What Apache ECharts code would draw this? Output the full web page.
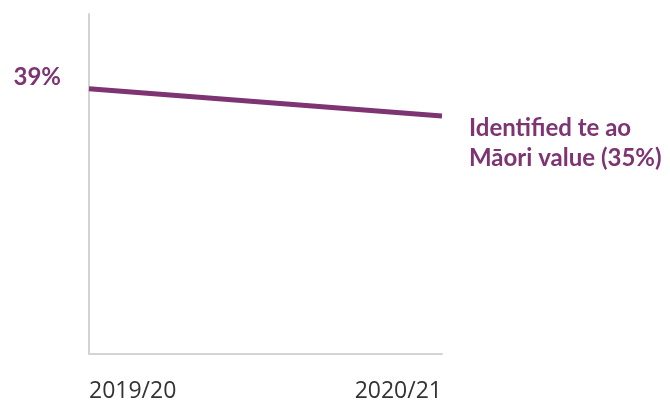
<!DOCTYPE html>
<html>
<head>
<meta charset="utf-8">
<script src="https://cdn.jsdelivr.net/npm/echarts@6/dist/echarts.min.js"></script>
<style>
  html, body { margin: 0; padding: 0; background: #fff; }
  #chart { width: 670px; height: 403px; }
</style>
</head>
<body>
<div id="chart"></div>
<script>
// Share of respondents who identified a te ao Māori value
const years = ['2019/20', '2020/21'];
const identifiedValue = [39, 35];
const seriesName = 'Identified te ao Māori value';

const purple = '#7e3372';
const chart = echarts.init(document.getElementById('chart'));

const data = identifiedValue.map((v, i) => {
  const item = { value: v };
  if (i === 0) {
    item.label = {
      show: true,
      position: 'left',
      distance: 0,
      offset: [-28, -12],
      formatter: '{c}%'
    };
  } else if (i === identifiedValue.length - 1) {
    item.label = {
      show: true,
      position: 'right',
      distance: 0,
      offset: [27, 27],
      align: 'left',
      lineHeight: 30,
      formatter: p => 'Identified te ao\nMāori value (' + p.value + '%)'
    };
  }
  return item;
});

chart.setOption({
  animation: false,
  grid: { left: 89, right: 228, top: 14, bottom: 46 },
  xAxis: {
    type: 'category',
    data: years,
    boundaryGap: false,
    axisLine: { lineStyle: { color: '#d3d3d3', width: 2 } },
    axisTick: { show: false },
    axisLabel: {
      color: '#333',
      fontFamily: 'Open Sans',
      fontSize: 23,
      margin: 26,
      alignMinLabel: 'left',
      alignMaxLabel: 'right'
    }
  },
  yAxis: {
    type: 'value',
    min: 0,
    max: 50,
    axisLine: { show: true, lineStyle: { color: '#d3d3d3', width: 2 } },
    axisTick: { show: false },
    axisLabel: { show: false },
    splitLine: { show: false }
  },
  series: [{
    name: seriesName,
    type: 'line',
    data: data,
    symbol: 'circle',
    symbolSize: 0,
    showSymbol: true,
    itemStyle: { color: purple },
    lineStyle: { color: purple, width: 5 },
    label: {
      color: purple,
      fontFamily: 'Lato',
      fontWeight: 'bold',
      fontSize: 24
    }
  }]
});
</script>
</body>
</html>
